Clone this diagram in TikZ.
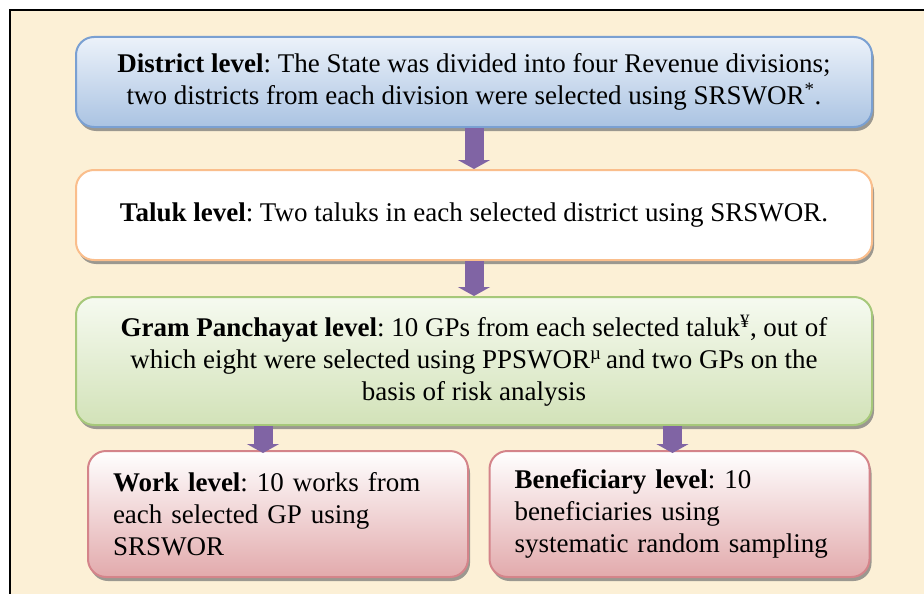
\documentclass[tikz,border=0pt]{standalone}
\usepackage{fontspec}
\setmainfont{Liberation Serif}
\usepackage{tikz}
\usetikzlibrary{arrows.meta,shadows,calc}
\frenchspacing

\definecolor{parch}{RGB}{252,240,214}
\definecolor{bluetop}{RGB}{236,242,250}
\definecolor{bluebot}{RGB}{170,195,226}
\definecolor{blueline}{RGB}{122,160,210}
\definecolor{orangeline}{RGB}{250,190,140}
\definecolor{greentop}{RGB}{246,250,240}
\definecolor{greenbot}{RGB}{210,226,184}
\definecolor{greenline}{RGB}{166,200,122}
\definecolor{pinkbot}{RGB}{226,170,172}
\definecolor{pinkline}{RGB}{212,132,138}
\definecolor{arrpurple}{RGB}{128,100,164}

\begin{document}
\begin{tikzpicture}[
  x=1pt, y=-1pt,
  every node/.style={font=\fontsize{27}{32}\selectfont},
  level/.style={rounded corners=18pt, line width=2pt, minimum width=796pt, align=center,
    drop shadow={shadow xshift=2pt, shadow yshift=-4pt, fill=black!55, opacity=0.7}},
  districtbox/.style={level, draw=blueline, top color=bluetop, bottom color=bluebot, minimum height=90pt},
  talukbox/.style={level, draw=orangeline, fill=white, minimum height=90pt},
  gpbox/.style={level, draw=greenline, top color=greentop, bottom color=greenbot, minimum height=128pt},
  unitbox/.style={level, draw=pinkline, top color=white, bottom color=pinkbot, minimum width=380pt,
    minimum height=126pt, text width=330pt, inner xsep=25pt, align=left},
  arr/.style={arrpurple, line width=19pt, -{Triangle[width=32pt,length=9pt]}},
]
\useasboundingbox (0,0) rectangle (924,594);
\fill[parch] (10,10) rectangle (924,594);
\draw[line width=2pt] (10,594) -- (10,10) -- (924,10);

\node[districtbox] (district) at (474,82) {\textbf{District level}: The State was divided into four Revenue divisions;\\two districts from each division were selected using SRSWOR\textsuperscript{*}.};
\node[talukbox] (taluk) at (474,215) {\textbf{Taluk level}: Two taluks in each selected district using SRSWOR.};
\node[gpbox] (gp) at (474,361) {\textbf{Gram Panchayat level}: 10 GPs from each selected taluk\textsuperscript{¥}, out of\\which eight were selected using PPSWOR\textsuperscript{µ}\,and two GPs on the\\basis of risk analysis};
\node[unitbox] (work) at (278,514) {\textbf{Work level}: 10 works from\\each selected GP using\\SRSWOR};
\node[unitbox] (benef) at (679.5,514) {\textbf{Beneficiary level}: 10\\beneficiaries using\\systematic random sampling};

\draw[arr] (district.south) -- (taluk.north);
\draw[arr] (taluk.south) -- (gp.north);
\draw[arr] ($(gp.south -| work.north)+(-15,0)$) -- ($(work.north)+(-15,3)$);
\draw[arr] ($(gp.south -| benef.north)+(-7,0)$) -- ($(benef.north)+(-7,3)$);

\end{tikzpicture}
\end{document}
